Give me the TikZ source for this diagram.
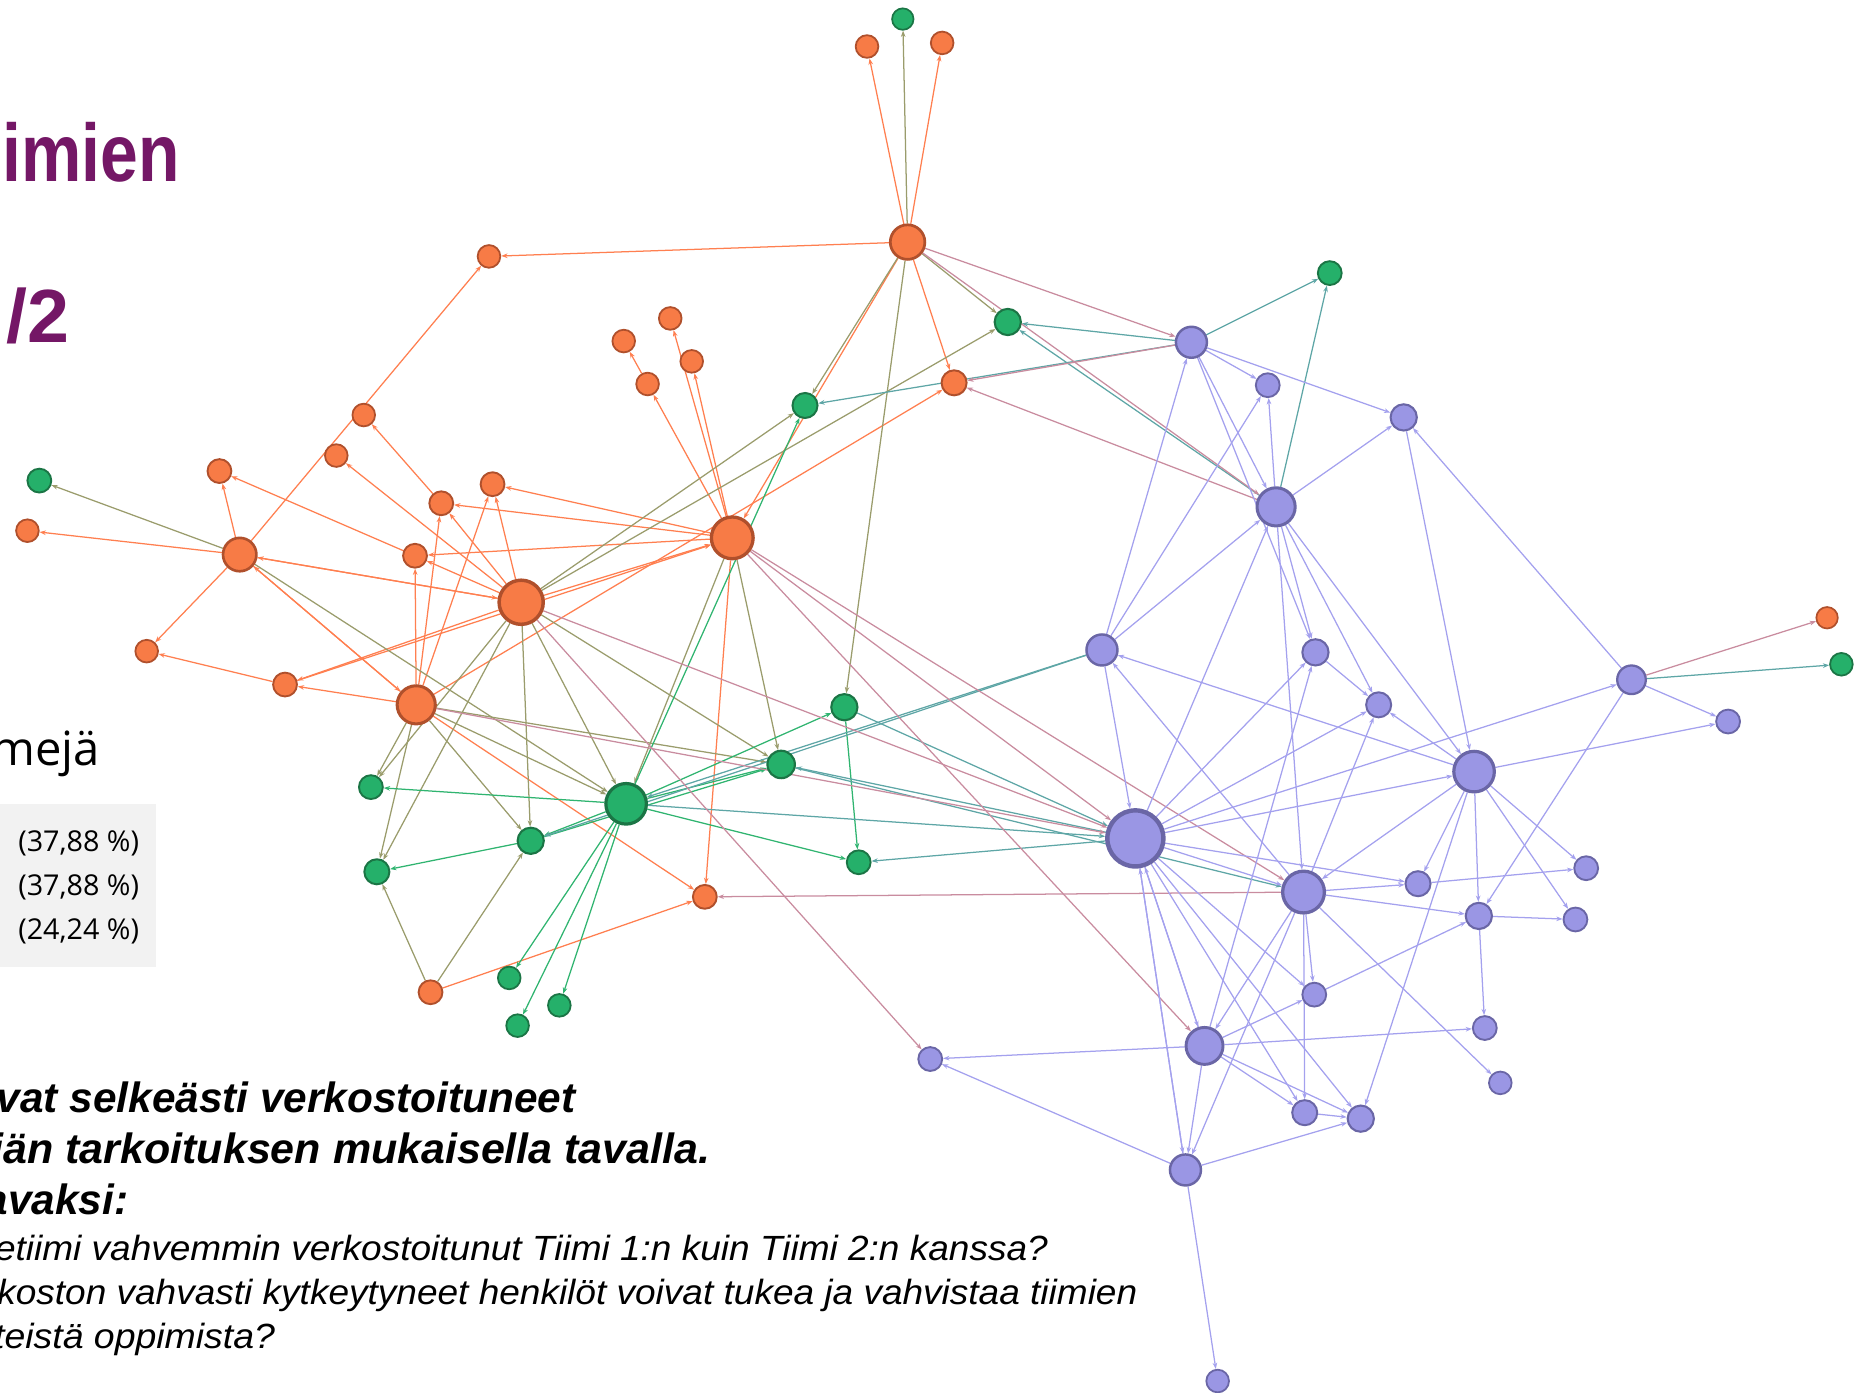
\documentclass[tikz,border=0pt]{standalone}
\usepackage{fontspec}
\setmainfont{Liberation Sans}
\newfontfamily\osans{Open Sans}
\usetikzlibrary{arrows.meta,backgrounds}
\definecolor{ofill}{HTML}{F77B46}
\definecolor{oline}{HTML}{B0502C}
\definecolor{gfill}{HTML}{25B06A}
\definecolor{gline}{HTML}{1B7545}
\definecolor{pfill}{HTML}{9A96E4}
\definecolor{pline}{HTML}{6A66A6}
\definecolor{coo}{HTML}{FF7F50}
\definecolor{cog}{HTML}{9A9C6C}
\definecolor{cgg}{HTML}{30B470}
\definecolor{cgp}{HTML}{5EA6A6}
\definecolor{cop}{HTML}{C98C9F}
\definecolor{cpp}{HTML}{A4A1EE}
\definecolor{titlec}{HTML}{741766}
\definecolor{legendc}{HTML}{F2F2F2}
\begin{document}
\begin{tikzpicture}[x=0.02cm,y=-0.02cm,
  nd/.style={circle,inner sep=0pt,minimum size=#1*0.02cm,line width=#1*0.045pt},
  onode/.style={nd=#1,fill=ofill,draw=oline},
  gnode/.style={nd=#1,fill=gfill,draw=gline},
  pnode/.style={nd=#1,fill=pfill,draw=pline},
  ebase/.style={line width=0.6pt,-{Stealth[length=3pt,width=2.2pt]}},
  eoo/.style={ebase,draw=coo},
  eog/.style={ebase,draw=cog},
  egg/.style={ebase,draw=cgg},
  egp/.style={ebase,draw=cgp},
  eop/.style={ebase,draw=cop},
  epp/.style={ebase,draw=cpp},
  bline/.style={anchor=base east,inner sep=0pt,font=\fontsize{20.2}{20.2}\selectfont\bfseries\itshape},
  iline/.style={anchor=base east,inner sep=0pt,font=\fontsize{16.7}{16.7}\selectfont\itshape},
  legtext/.style={anchor=base west,inner sep=0pt,font=\osans\fontsize{13.7}{13.7}\selectfont}
]
\useasboundingbox (0,0) rectangle (1568,1168);
\clip (0,0) rectangle (1568,1168);

% ---------- texts ----------
\node[anchor=base east,inner sep=0pt,text=titlec,font=\fontsize{39}{39}\selectfont\bfseries] (t1) at (151,152) {\scalebox{0.83}[1]{imien}};
\node[anchor=base west,inner sep=0pt,text=titlec,font=\fontsize{36}{36}\selectfont\bfseries] (t2) at (5,287) {/2};
\node[anchor=base east,inner sep=0pt,font=\osans\fontsize{22.5}{22.5}\selectfont] (t3) at (84,642) {mejä};
\fill[legendc] (0,674) rectangle (131,811);
\node[legtext] (l1) at (15,714) {(37,88 \%)};
\node[legtext] (l2) at (15,751) {(37,88 \%)};
\node[legtext] (l3) at (15,788) {(24,24 \%)};
\node[bline] (b1) at (483,933) {vat selkeästi verkostoituneet};
\node[bline] (b2) at (596,976) {\scalebox{1.015}[1]{iän tarkoituksen mukaisella tavalla.}};
\node[bline] (b3) at (108,1018) {avaksi:};
\node[iline] (b4) at (879,1057) {\scalebox{1.058}[1]{etiimi vahvemmin verkostoitunut Tiimi 1:n kuin Tiimi 2:n kanssa?}};
\node[iline] (b5) at (954,1094) {\scalebox{1.058}[1]{koston vahvasti kytkeytyneet henkilöt voivat tukea ja vahvistaa tiimien}};
\node[iline] (b6) at (231,1131) {\scalebox{1.07}[1]{teistä oppimista?}};

% ---------- orange nodes ----------
\node[onode=19] (O1) at (727,39) {};
\node[onode=19] (O2) at (790,36) {};
\node[onode=29] (O3) at (761,203) {};
\node[onode=19] (O4) at (410,215) {};
\node[onode=19] (O5) at (562,267) {};
\node[onode=19] (O6) at (523,286) {};
\node[onode=19] (O7) at (580,303) {};
\node[onode=19] (O8) at (543,322) {};
\node[onode=21] (O9) at (800,321) {};
\node[onode=19] (O10) at (305,348) {};
\node[onode=19] (O11) at (282,382) {};
\node[onode=20] (O12) at (184,395) {};
\node[onode=20] (O13) at (370,422) {};
\node[onode=20] (O14) at (413,406) {};
\node[onode=19] (O15) at (23,445) {};
\node[onode=28] (O16) at (201,465) {};
\node[onode=20] (O17) at (348,466) {};
\node[onode=37] (O18) at (437,505) {};
\node[onode=35] (O19) at (614,451) {};
\node[onode=19] (O20) at (123,546) {};
\node[onode=20] (O21) at (239,574) {};
\node[onode=32] (O22) at (349,591) {};
\node[onode=20] (O23) at (591,752) {};
\node[onode=20] (O24) at (361,832) {};
\node[onode=18] (O25) at (1532,518) {};

% ---------- green nodes ----------
\node[gnode=18] (G1) at (757,16) {};
\node[gnode=20] (G2) at (33,403) {};
\node[gnode=19] (G3) at (1544,557) {};
\node[gnode=22] (G4) at (845,270) {};
\node[gnode=21] (G5) at (675,340) {};
\node[gnode=20] (G6) at (1115,229) {};
\node[gnode=22] (G7) at (708,593) {};
\node[gnode=23] (G8) at (655,641) {};
\node[gnode=34] (G9) at (525,674) {};
\node[gnode=20] (G10) at (311,660) {};
\node[gnode=22] (G11) at (445,705) {};
\node[gnode=21] (G12) at (316,731) {};
\node[gnode=20] (G13) at (720,723) {};
\node[gnode=19] (G14) at (427,820) {};
\node[gnode=19] (G15) at (469,843) {};
\node[gnode=19] (G16) at (434,860) {};

% ---------- purple nodes ----------
\node[pnode=26] (P1) at (999,287) {};
\node[pnode=20] (P2) at (1063,323) {};
\node[pnode=22] (P3) at (1177,350) {};
\node[pnode=32] (P4) at (1070,425) {};
\node[pnode=26] (P5) at (924,545) {};
\node[pnode=22] (P6) at (1103,547) {};
\node[pnode=21] (P7) at (1156,591) {};
\node[pnode=24] (P8) at (1368,570) {};
\node[pnode=20] (P9) at (1449,605) {};
\node[pnode=34] (P10) at (1236,647) {};
\node[pnode=47] (P11) at (952,703) {};
\node[pnode=35] (P12) at (1093,748) {};
\node[pnode=21] (P13) at (1189,741) {};
\node[pnode=22] (P14) at (1240,768) {};
\node[pnode=20] (P15) at (1330,728) {};
\node[pnode=20] (P16) at (1321,771) {};
\node[pnode=20] (P17) at (1102,834) {};
\node[pnode=20] (P18) at (1245,862) {};
\node[pnode=19] (P19) at (1258,908) {};
\node[pnode=20] (P20) at (780,888) {};
\node[pnode=31] (P21) at (1010,877) {};
\node[pnode=21] (P22) at (1094,933) {};
\node[pnode=22] (P23) at (1141,938) {};
\node[pnode=26] (P24) at (994,981) {};
\node[pnode=19] (P25) at (1021,1158) {};

% ---------- edges ----------
\begin{scope}[on background layer]
\foreach \a/\b in {O3/O1,O3/O2,O3/O4,O3/O19,O3/O9,O19/O8,O19/O7,O19/O5,O8/O6,
  O19/O14,O19/O13,O19/O17,O18/O19,O21/O19,O22/O9,O19/O23,O22/O23,O24/O23,
  O16/O4,O13/O10,O18/O11,O18/O13,O22/O13,O18/O14,O22/O14,O18/O17,O22/O17,
  O17/O12,O16/O12,O16/O15,O18/O16,O16/O18,O16/O22,O22/O16,O16/O20,O21/O20,
  O22/O21,O18/O21}
  \draw[eoo] (\a) -- (\b);
\foreach \a/\b in {O3/G1,O3/G5,O3/G4,O3/G7,O18/G5,O18/G4,O16/G2,O16/G9,
  O19/G9,O19/G8,O18/G9,O18/G11,O18/G8,O18/G10,O18/G12,
  O22/G10,O22/G12,O22/G11,O22/G9,O22/G8,O24/G12,O24/G11}
  \draw[eog] (\a) -- (\b);
\foreach \a/\b in {G9/G5,G9/G10,G9/G11,G11/G12,G9/G8,G11/G8,G9/G7,G7/G13,
  G9/G13,G9/G14,G9/G15,G9/G16}
  \draw[egg] (\a) -- (\b);
\foreach \a/\b in {P1/G5,P1/G4,P4/G4,P1/G6,P4/G6,P5/G9,P5/G11,G9/P11,G7/P11,
  P11/G8,G8/P12,P11/G13,P8/G3}
  \draw[egp] (\a) -- (\b);
\foreach \a/\b in {O3/P1,O3/P4,P1/O9,P4/O9,O19/P12,O19/P11,O19/P21,O18/P11,
  O18/P20,O22/P11,P12/O23,P8/O25}
  \draw[eop] (\a) -- (\b);
\foreach \a/\b in {P1/P2,P1/P3,P1/P4,P1/P6,P5/P1,P5/P2,P5/P4,P4/P2,P4/P3,
  P11/P4,P4/P12,P4/P7,P4/P10,P4/P6,P6/P7,P10/P7,P3/P10,P8/P3,P5/P11,P10/P5,
  P12/P5,P11/P6,P21/P6,P11/P7,P12/P7,P11/P10,P11/P8,P10/P9,P8/P9,P8/P14,
  P11/P21,P21/P11,P11/P24,P24/P11,P11/P22,P11/P23,P11/P17,P11/P12,P11/P13,
  P12/P13,P13/P15,P10/P13,P10/P14,P10/P15,P10/P16,P10/P23,P10/P12,P12/P14,
  P14/P16,P14/P18,P17/P14,P21/P17,P12/P17,P12/P19,P12/P22,P12/P21,P12/P24,
  P21/P18,P21/P20,P21/P22,P21/P23,P21/P24,P24/P23,P22/P23,P24/P20,P24/P25}
  \draw[epp] (\a) -- (\b);
\end{scope}
\end{tikzpicture}
\end{document}
